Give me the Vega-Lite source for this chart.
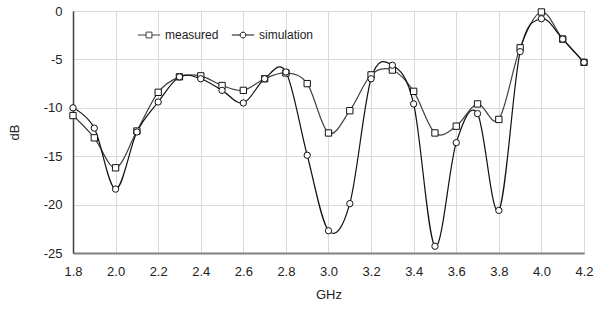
{
  "$schema": "https://vega.github.io/schema/vega-lite/v6.json",
  "width": 511,
  "height": 242,
  "autosize": {"type": "none"},
  "padding": {"left": 73, "top": 11, "right": 19, "bottom": 60},
  "background": "white",
  "config": {
    "font": "Liberation Sans",
    "view": {"stroke": "#000000", "strokeWidth": 1},
    "axis": {
      "labelFont": "Liberation Sans",
      "titleFont": "Liberation Sans",
      "labelFontSize": 13,
      "titleFontSize": 13,
      "titleFontWeight": "normal",
      "labelColor": "#222222",
      "titleColor": "#222222",
      "ticks": false,
      "labelFlush": false,
      "grid": true,
      "gridColor": "#dadada",
      "gridOpacity": 1,
      "gridWidth": 1
    }
  },
  "data": {
    "values": [
      {"f": 1.8, "dB": -10.8, "series": "measured"},
      {"f": 1.9, "dB": -13.1, "series": "measured"},
      {"f": 2.0, "dB": -16.2, "series": "measured"},
      {"f": 2.1, "dB": -12.4, "series": "measured"},
      {"f": 2.2, "dB": -8.4, "series": "measured"},
      {"f": 2.3, "dB": -6.8, "series": "measured"},
      {"f": 2.4, "dB": -6.7, "series": "measured"},
      {"f": 2.5, "dB": -7.7, "series": "measured"},
      {"f": 2.6, "dB": -8.2, "series": "measured"},
      {"f": 2.7, "dB": -7.0, "series": "measured"},
      {"f": 2.8, "dB": -6.4, "series": "measured"},
      {"f": 2.9, "dB": -7.5, "series": "measured"},
      {"f": 3.0, "dB": -12.6, "series": "measured"},
      {"f": 3.1, "dB": -10.3, "series": "measured"},
      {"f": 3.2, "dB": -6.6, "series": "measured"},
      {"f": 3.3, "dB": -6.1, "series": "measured"},
      {"f": 3.4, "dB": -8.3, "series": "measured"},
      {"f": 3.5, "dB": -12.6, "series": "measured"},
      {"f": 3.6, "dB": -11.9, "series": "measured"},
      {"f": 3.7, "dB": -9.6, "series": "measured"},
      {"f": 3.8, "dB": -11.2, "series": "measured"},
      {"f": 3.9, "dB": -3.8, "series": "measured"},
      {"f": 4.0, "dB": -0.1, "series": "measured"},
      {"f": 4.1, "dB": -2.9, "series": "measured"},
      {"f": 4.2, "dB": -5.3, "series": "measured"},
      {"f": 1.8, "dB": -10.0, "series": "simulation"},
      {"f": 1.9, "dB": -12.1, "series": "simulation"},
      {"f": 2.0, "dB": -18.4, "series": "simulation"},
      {"f": 2.1, "dB": -12.5, "series": "simulation"},
      {"f": 2.2, "dB": -9.4, "series": "simulation"},
      {"f": 2.3, "dB": -6.8, "series": "simulation"},
      {"f": 2.4, "dB": -7.0, "series": "simulation"},
      {"f": 2.5, "dB": -8.2, "series": "simulation"},
      {"f": 2.6, "dB": -9.5, "series": "simulation"},
      {"f": 2.7, "dB": -7.0, "series": "simulation"},
      {"f": 2.8, "dB": -6.3, "series": "simulation"},
      {"f": 2.9, "dB": -14.9, "series": "simulation"},
      {"f": 3.0, "dB": -22.7, "series": "simulation"},
      {"f": 3.1, "dB": -19.9, "series": "simulation"},
      {"f": 3.2, "dB": -7.0, "series": "simulation"},
      {"f": 3.3, "dB": -5.6, "series": "simulation"},
      {"f": 3.4, "dB": -9.6, "series": "simulation"},
      {"f": 3.5, "dB": -24.3, "series": "simulation"},
      {"f": 3.6, "dB": -13.6, "series": "simulation"},
      {"f": 3.7, "dB": -10.6, "series": "simulation"},
      {"f": 3.8, "dB": -20.6, "series": "simulation"},
      {"f": 3.9, "dB": -4.2, "series": "simulation"},
      {"f": 4.0, "dB": -0.8, "series": "simulation"},
      {"f": 4.1, "dB": -2.9, "series": "simulation"},
      {"f": 4.2, "dB": -5.3, "series": "simulation"}
    ]
  },
  "encoding": {
    "x": {
      "field": "f",
      "type": "quantitative",
      "scale": {"domain": [1.8, 4.2], "nice": false, "zero": false},
      "axis": {
        "title": "GHz",
        "values": [1.8, 2.0, 2.2, 2.4, 2.6, 2.8, 3.0, 3.2, 3.4, 3.6, 3.8, 4.0, 4.2],
        "format": ".1f",
        "labelPadding": 12,
        "titlePadding": 10,
        "domainColor": "#808080",
        "domainWidth": 2
      }
    },
    "y": {
      "field": "dB",
      "type": "quantitative",
      "scale": {"domain": [-25, 0], "nice": false, "zero": false},
      "axis": {
        "title": "dB",
        "values": [-25, -20, -15, -10, -5, 0],
        "labelExpr": "'' + datum.value",
        "labelPadding": 11,
        "titlePadding": 22,
        "domainColor": "#404040",
        "domainWidth": 1.5
      }
    }
  },
  "layer": [
    {
      "mark": {"type": "line", "interpolate": "cardinal", "strokeWidth": 1.2},
      "encoding": {
        "color": {
          "field": "series",
          "type": "nominal",
          "scale": {"domain": ["measured", "simulation"], "range": ["#404040", "#111111"]},
          "legend": {
            "title": null,
            "orient": "none",
            "legendX": 64,
            "legendY": 12,
            "direction": "horizontal",
            "symbolSize": 500,
            "symbolStrokeWidth": 1,
            "labelFontSize": 12,
            "labelFont": "Liberation Sans",
            "labelColor": "#222222",
            "labelOffset": 4,
            "columnPadding": 10,
            "encode": {
              "symbols": {
                "update": {
                  "shape": {"signal": "datum.value === 'measured' ? 'M-1,0H-0.26M0.26,0H1M-0.26,-0.26H0.26V0.26H-0.26Z' : 'M-1,0H-0.26M0.26,0H1M0.26,0L0.225,0.13L0.13,0.225L0,0.26L-0.13,0.225L-0.225,0.13L-0.26,0L-0.225,-0.13L-0.13,-0.225L0,-0.26L0.13,-0.225L0.225,-0.13Z'"},
                  "stroke": {"value": "#111111"},
                  "fill": {"value": "white"}
                }
              }
            }
          }
        }
      }
    },
    {
      "transform": [{"filter": "datum.series === 'measured'"}],
      "mark": {"type": "point", "shape": "square", "filled": false, "fill": "white", "fillOpacity": 1, "stroke": "#111111", "strokeWidth": 1, "size": 40, "opacity": 1}
    },
    {
      "transform": [{"filter": "datum.series === 'simulation'"}],
      "mark": {"type": "point", "shape": "circle", "filled": false, "fill": "white", "fillOpacity": 1, "stroke": "#111111", "strokeWidth": 1, "size": 40, "opacity": 1}
    }
  ]
}
